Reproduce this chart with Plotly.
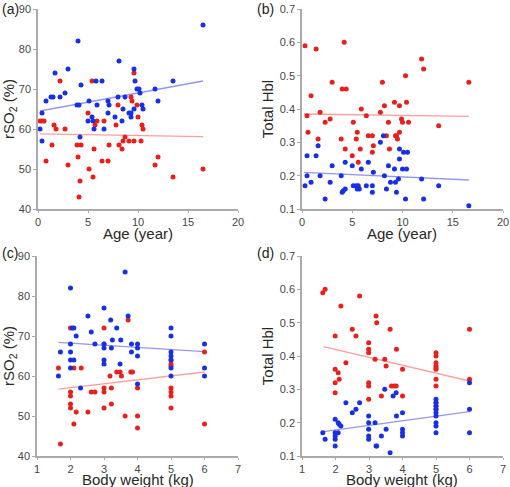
import plotly.graph_objects as go

# ---------------- Panel (a): Age vs rSO2 ----------------
a_blue_age = [0.2, 0.4, 0.4, 0.8, 1.3, 1.5, 1.7, 2.2, 2.7, 3.0, 3.9, 4.1, 4.0, 4.2, 4.3, 5.1, 5.0, 5.4,
              5.5, 5.6, 5.8, 5.9, 6.4, 6.6, 7.0, 7.0, 7.1, 7.7, 8.0, 8.1, 8.4, 8.5, 8.7, 9.1, 9.3, 9.3,
              9.6, 9.7, 9.6, 9.9, 10.1, 10.2, 10.4, 10.5, 11.7, 12.0, 13.5, 16.5]
a_blue_val = [60, 64, 57, 67, 68, 68, 74, 68, 69, 75, 66, 66, 82, 58, 71, 67, 62, 63,
              62, 60, 72, 66, 72, 60, 67, 64, 66, 63, 68, 77, 62, 65, 68, 64, 64, 63,
              75, 72, 65, 70, 70, 69, 66, 65, 70, 67, 72, 86]
a_red_age = [0.2, 0.4, 0.6, 0.8, 1.4, 1.6, 1.8, 2.2, 2.7, 3.0, 3.9, 4.0, 4.1, 4.2, 4.3, 5.0, 5.1, 5.4,
             5.5, 5.6, 5.7, 5.9, 6.4, 6.6, 7.0, 7.1, 7.8, 8.0, 8.1, 8.4, 8.5, 8.7, 9.1, 9.3, 9.4, 9.6,
             9.6, 9.9, 10.0, 10.3, 10.4, 10.5, 11.7, 12.0, 13.5, 16.5]
a_red_val = [62, 62, 62, 52, 56, 61, 60, 72, 60, 51, 56, 53, 43, 47, 56, 64, 50, 72,
             48, 55, 61, 62, 52, 62, 52, 56, 61, 66, 56, 55, 57, 58, 57, 68, 67, 57,
             74, 66, 63, 57, 61, 60, 51, 53, 48, 50]
a_fit_x = [0.2, 16.5]
a_fit_blue = [64.5, 72.0]
a_fit_red = [58.8, 58.1]

# ---------------- Panel (b): Age vs Total HbI ----------------
b_red_age = [0.3, 1.4, 4.2, 3.0, 4.0, 4.4, 8.0, 10.3, 0.9, 9.2, 9.7, 10.4, 8.2, 5.9, 0.5, 1.8, 6.4, 7.8,
             2.3, 2.8, 5.1, 8.6, 9.9, 10.0, 10.6, 0.6, 5.5, 9.7, 1.6, 3.9, 5.4, 9.4, 9.3, 9.5, 6.6,
             7.0, 8.4, 4.3, 5.8, 8.7, 7.1, 7.0, 5.0, 5.6, 11.9, 12.1, 16.6, 13.6]
b_red_val = [0.59, 0.58, 0.60, 0.48, 0.46, 0.46, 0.48, 0.50, 0.44, 0.42, 0.41, 0.42, 0.41, 0.40, 0.38,
             0.39, 0.38, 0.39, 0.36, 0.37, 0.36, 0.36, 0.37, 0.36, 0.36, 0.33, 0.33, 0.33, 0.31, 0.31,
             0.31, 0.32, 0.32, 0.31, 0.32, 0.32, 0.32, 0.28, 0.28, 0.28, 0.29, 0.27, 0.26, 0.24,
             0.55, 0.52, 0.48, 0.35]
b_blue_age = [0.5, 1.4, 1.6, 0.5, 0.3, 0.9, 1.8, 2.3, 2.8, 3.0, 3.9, 4.0, 4.1, 4.3, 4.3, 5.0, 5.1,
              5.4, 5.5, 5.6, 5.7, 5.9, 6.4, 6.6, 7.0, 7.0, 7.1, 7.8, 8.1, 8.2, 8.4, 8.6, 8.8, 9.2,
              9.3, 9.4, 9.6, 9.7, 9.7, 10.0, 10.1, 10.4, 10.5, 10.3, 11.9, 13.6, 12.1, 16.6]
b_blue_val = [0.26, 0.26, 0.29, 0.20, 0.17, 0.18, 0.20, 0.13, 0.18, 0.23, 0.20, 0.15, 0.155, 0.16,
              0.24, 0.23, 0.17, 0.17, 0.16, 0.17, 0.16, 0.22, 0.17, 0.24, 0.17, 0.15, 0.21, 0.30,
              0.32, 0.20, 0.16, 0.23, 0.18, 0.22, 0.18, 0.15, 0.19, 0.28, 0.25, 0.22, 0.27, 0.22,
              0.27, 0.13, 0.19, 0.17, 0.13, 0.11]
b_fit_x = [0.2, 16.6]
b_fit_blue = [0.210, 0.187]
b_fit_red = [0.385, 0.378]

# ---------------- Panel (c): Body weight vs rSO2 ----------------
c_blue_w = [1.64, 1.7, 2.0, 2.0, 2.0, 2.0, 2.0, 2.05, 2.1, 2.1, 2.17, 2.3, 2.52, 2.62, 2.73, 3.0, 3.0,
            3.0, 3.0, 3.0, 3.2, 3.22, 3.25, 3.38, 3.48, 3.5, 3.63, 3.72, 3.82, 3.82, 4.0, 4.0, 4.0,
            4.0, 5.0, 5.0, 5.0, 5.0, 5.0, 5.0, 5.0, 6.0, 6.0, 6.0]
c_blue_val = [60, 66, 82, 68, 66, 64, 62, 72, 72, 64, 70, 57, 75, 71, 68, 77, 68,
              67, 64, 63, 74, 67, 69, 72, 63, 69, 86, 75, 68, 66, 68, 67, 65,
              58, 72, 70, 66, 65, 64, 62, 60, 68, 62, 60]
c_red_w = [1.64, 1.7, 2.0, 2.0, 2.0, 2.0, 2.0, 2.1, 2.1, 2.17, 2.32, 2.52, 2.62, 2.73, 3.0, 3.0, 3.0,
           3.0, 3.0, 3.18, 3.22, 3.22, 3.38, 3.48, 3.52, 3.63, 3.72, 3.8, 3.85, 4.0, 4.0, 4.0,
           5.0, 5.0, 5.0, 5.0, 5.0, 5.0, 5.0, 6.0, 6.0]
c_red_val = [62, 43, 72, 56, 55, 53, 52, 62, 48, 51, 62, 51, 56, 56, 72, 68, 57,
             56, 52, 60, 57, 53, 61, 61, 60, 50, 74, 61, 61, 57, 50, 47,
             64, 63, 62.5, 57, 56, 55, 52, 66, 48]
c_fit_x = [1.64, 6.0]
c_fit_blue = [68.4, 66.1]
c_fit_red = [56.7, 61.0]

# ---------------- Panel (d): Body weight vs Total HbI ----------------
d_red_w = [1.62, 1.69, 2.16, 2.72, 1.99, 2.5, 2.61, 1.99, 2.08, 2.11, 2.31, 1.99, 1.99, 2.99, 2.99,
           2.99, 3.21, 3.23, 3.18, 3.63, 3.47, 3.51, 3.82, 4.0, 2.99, 2.99, 2.99, 3.37, 3.67, 3.75,
           3.81, 4.0, 5.0, 5.0, 5.0, 5.0, 5.0, 5.0, 5.0, 5.0, 5.0, 5.0, 5.0, 6.0, 6.0]
d_red_val = [0.59, 0.60, 0.55, 0.58, 0.46, 0.48, 0.46, 0.36, 0.35, 0.33, 0.38, 0.32, 0.29, 0.44, 0.42,
             0.41, 0.52, 0.50, 0.39, 0.48, 0.39, 0.37, 0.42, 0.36, 0.32, 0.31, 0.27, 0.28, 0.31, 0.31,
             0.31, 0.28, 0.41, 0.40, 0.38, 0.37, 0.365, 0.36, 0.33, 0.31, 0.26, 0.25, 0.24, 0.48, 0.33]
d_blue_w = [1.62, 1.69, 1.99, 1.99, 1.99, 1.99, 1.99, 2.08, 2.08, 2.11, 2.16, 2.31, 2.5, 2.61, 2.72,
            2.99, 2.99, 2.99, 2.99, 2.99, 3.18, 3.21, 3.23, 3.37, 3.47, 3.51, 3.63, 3.72, 3.81, 3.82,
            4.0, 4.0, 4.0, 4.0, 5.0, 5.0, 5.0, 5.0, 5.0, 5.0, 5.0, 5.0, 5.0, 6.0, 6.0, 6.0]
d_blue_val = [0.17, 0.15, 0.21, 0.17, 0.16, 0.15, 0.13, 0.17, 0.20, 0.195, 0.19, 0.26, 0.23, 0.24, 0.26,
              0.22, 0.20, 0.18, 0.16, 0.15, 0.20, 0.13, 0.13, 0.16, 0.30, 0.18, 0.11, 0.28, 0.29, 0.22,
              0.23, 0.18, 0.17, 0.16, 0.27, 0.26, 0.25, 0.24, 0.23, 0.22, 0.20, 0.19, 0.17, 0.32, 0.24, 0.17]
d_fit_x = [1.64, 6.0]
d_fit_blue = [0.173, 0.233]
d_fit_red = [0.428, 0.325]

x_titles = ["Age (year)", "Age (year)", "Body weight (kg)", "Body weight (kg)"]
y_titles = ["rSO<sub>2</sub> (%)", "Total Hbl", "rSO<sub>2</sub> (%)", "Total Hbl"]
panel_labels = ["(a)", "(b)", "(c)", "(d)"]

RED = "rgb(232,32,28)"
BLUE = "rgb(24,48,228)"
RED_LINE = "rgb(250,160,160)"
BLUE_LINE = "rgb(150,150,240)"
FONT = "Liberation Sans, Arial, sans-serif"

W, H = 510, 487

fig = go.Figure()

panels = [
    ("x", "y", a_blue_age, a_blue_val, a_red_age, a_red_val, a_fit_x, a_fit_blue, a_fit_red),
    ("x2", "y2", b_blue_age, b_blue_val, b_red_age, b_red_val, b_fit_x, b_fit_blue, b_fit_red),
    ("x3", "y3", c_blue_w, c_blue_val, c_red_w, c_red_val, c_fit_x, c_fit_blue, c_fit_red),
    ("x4", "y4", d_blue_w, d_blue_val, d_red_w, d_red_val, d_fit_x, d_fit_blue, d_fit_red),
]

for xa, ya, bx, by, rx, ry, fx, fb, fr in panels:
    fig.add_trace(go.Scatter(x=fx, y=fb, mode="lines", xaxis=xa, yaxis=ya,
                             line=dict(color=BLUE_LINE, width=1.3), showlegend=False, hoverinfo="skip"))
    fig.add_trace(go.Scatter(x=fx, y=fr, mode="lines", xaxis=xa, yaxis=ya,
                             line=dict(color=RED_LINE, width=1.3), showlegend=False, hoverinfo="skip"))
    fig.add_trace(go.Scatter(x=rx, y=ry, mode="markers", xaxis=xa, yaxis=ya,
                             marker=dict(color=RED, size=5), showlegend=False, cliponaxis=False))
    fig.add_trace(go.Scatter(x=bx, y=by, mode="markers", xaxis=xa, yaxis=ya,
                             marker=dict(color=BLUE, size=5), showlegend=False, cliponaxis=False))

def px_x(a, b):
    return [a / W, b / W]

def px_y(top, bottom):
    return [(H - bottom) / H, (H - top) / H]

axis_common = dict(showline=True, linecolor="rgb(170,170,170)", linewidth=1.5, ticks="outside",
                   ticklen=3, tickcolor="rgb(170,170,170)", showgrid=False, zeroline=False,
                   automargin=False,
                   tickfont=dict(size=11, color="rgb(70,70,70)", family=FONT),
                   title_font=dict(size=15, color="rgb(40,40,40)", family=FONT))
xaxis_extra = dict(ticklen=2)

fig.update_layout(
    width=W, height=H,
    margin=dict(l=0, r=0, t=0, b=0, autoexpand=False),
    paper_bgcolor="white", plot_bgcolor="white",
    font=dict(family=FONT),
    xaxis=dict(axis_common, **xaxis_extra, domain=px_x(38, 238), range=[0, 20],
               tickvals=[0, 5, 10, 15, 20], anchor="y"),
    yaxis=dict(axis_common, domain=px_y(9, 209), range=[40, 90], tickvals=[40, 50, 60, 70, 80, 90],
               title=dict(text=y_titles[0], standoff=3), anchor="x"),
    xaxis2=dict(axis_common, **xaxis_extra, domain=px_x(302, 503), range=[0, 20],
                tickvals=[0, 5, 10, 15, 20], anchor="y2"),
    yaxis2=dict(axis_common, domain=px_y(9, 209), range=[0.1, 0.7],
                tickvals=[0.1, 0.2, 0.3, 0.4, 0.5, 0.6, 0.7], tickformat=".1f",
                title=dict(text=y_titles[1], standoff=3), anchor="x2"),
    xaxis3=dict(axis_common, **xaxis_extra, domain=px_x(37, 238), range=[1, 7],
                tickvals=[1, 2, 3, 4, 5, 6, 7], anchor="y3"),
    yaxis3=dict(axis_common, domain=px_y(256, 456), range=[40, 90], tickvals=[40, 50, 60, 70, 80, 90],
                title=dict(text=y_titles[2], standoff=3), anchor="x3"),
    xaxis4=dict(axis_common, **xaxis_extra, domain=px_x(302, 503), range=[1, 7],
                tickvals=[1, 2, 3, 4, 5, 6, 7], anchor="y4"),
    yaxis4=dict(axis_common, domain=px_y(256, 456), range=[0.1, 0.7],
                tickvals=[0.1, 0.2, 0.3, 0.4, 0.5, 0.6, 0.7], tickformat=".1f",
                title=dict(text=y_titles[3], standoff=3), anchor="x4"),
)

# x-axis titles as centred text under each panel
xt_pos = [(138, 233), (402, 233), (138, 479), (402, 479)]
for txt, (cx, cy) in zip(x_titles, xt_pos):
    fig.add_annotation(text=txt, x=cx / W, y=(H - cy) / H, xref="paper", yref="paper",
                       xanchor="center", yanchor="middle", showarrow=False,
                       font=dict(size=15, color="rgb(40,40,40)", family=FONT))

lab_pos = [(0, 9), (255, 9), (0, 253), (255, 253)]
for txt, (lx, ly) in zip(panel_labels, lab_pos):
    fig.add_annotation(text=txt, x=lx / W, y=(H - ly) / H, xref="paper", yref="paper",
                       xanchor="left", yanchor="middle", showarrow=False,
                       font=dict(size=14, color="rgb(30,30,30)", family=FONT))

fig.write_html("out.html", config={"displayModeBar": False},
               post_script="document.body.style.margin='0px';document.body.style.overflow='hidden';")
